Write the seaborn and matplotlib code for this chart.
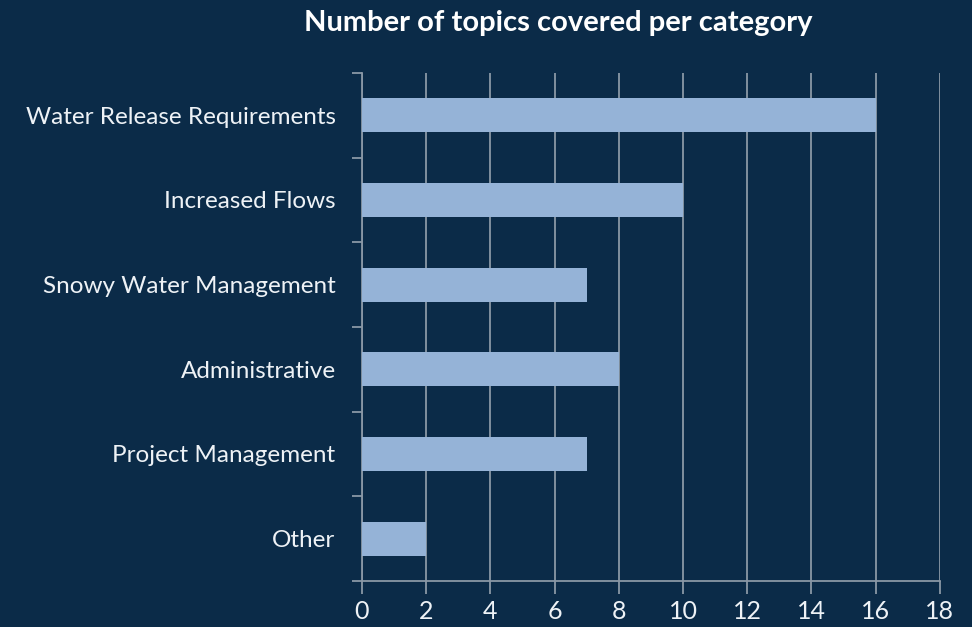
import matplotlib
matplotlib.use("Agg")
import matplotlib.pyplot as plt
import seaborn as sns
import pandas as pd
import numpy as np

categories = ["Water Release Requirements", "Increased Flows", "Snowy Water Management",
              "Administrative", "Project Management", "Other"]
values = [16, 10, 7, 8, 7, 2]
xticks = [0, 2, 4, 6, 8, 10, 12, 14, 16, 18]

bg = "#0b2b48"
bar_color = "#95b3d7"
grid_color = "#8a98a6"
text_color = "#eef2f6"

sns.set_theme(style="white")
plt.rcParams['font.family'] = ['Lato', 'DejaVu Sans']

df = pd.DataFrame({"category": categories, "value": values})

fig = plt.figure(figsize=(9.72, 6.27), dpi=100, facecolor=bg)
ax = fig.add_axes([0.3724, 0.0734, 0.967 - 0.3724, 0.8836 - 0.0734])
ax.set_facecolor(bg)

sns.barplot(data=df, y="category", x="value", orient="h", color=bar_color,
            saturation=1, width=0.4, ax=ax, zorder=3, linewidth=0)

ax.set_xlim(0, 18)
ax.set_ylim(len(categories) - 0.5, -0.5)
ax.set_xticks(xticks)
ax.set_xticklabels([str(t) for t in xticks])
ax.xaxis.grid(True, color=grid_color, linewidth=1.3, zorder=0)
ax.yaxis.grid(False)
ax.set_xlabel("")
ax.set_ylabel("")

ax.set_yticks(np.arange(-0.5, len(categories), 1.0), minor=True)
ax.tick_params(axis="y", which="minor", length=7, width=1.3, color=grid_color, left=True)
ax.tick_params(axis="y", which="major", length=0, pad=19, labelsize=17.5, labelcolor=text_color)
ax.tick_params(axis="x", which="major", length=9, width=1.3, color=grid_color, bottom=True,
               labelsize=18, labelcolor=text_color, pad=5)

for s in ["top", "right"]:
    ax.spines[s].set_visible(False)
for s in ["left", "bottom"]:
    ax.spines[s].set_color(grid_color)
    ax.spines[s].set_linewidth(1.3)

fig.text(0.574, 0.963, "Number of topics covered per category", ha="center", va="center",
         fontsize=21, fontweight="bold", color="white")

fig.savefig("out.png", dpi=100, facecolor=bg)
